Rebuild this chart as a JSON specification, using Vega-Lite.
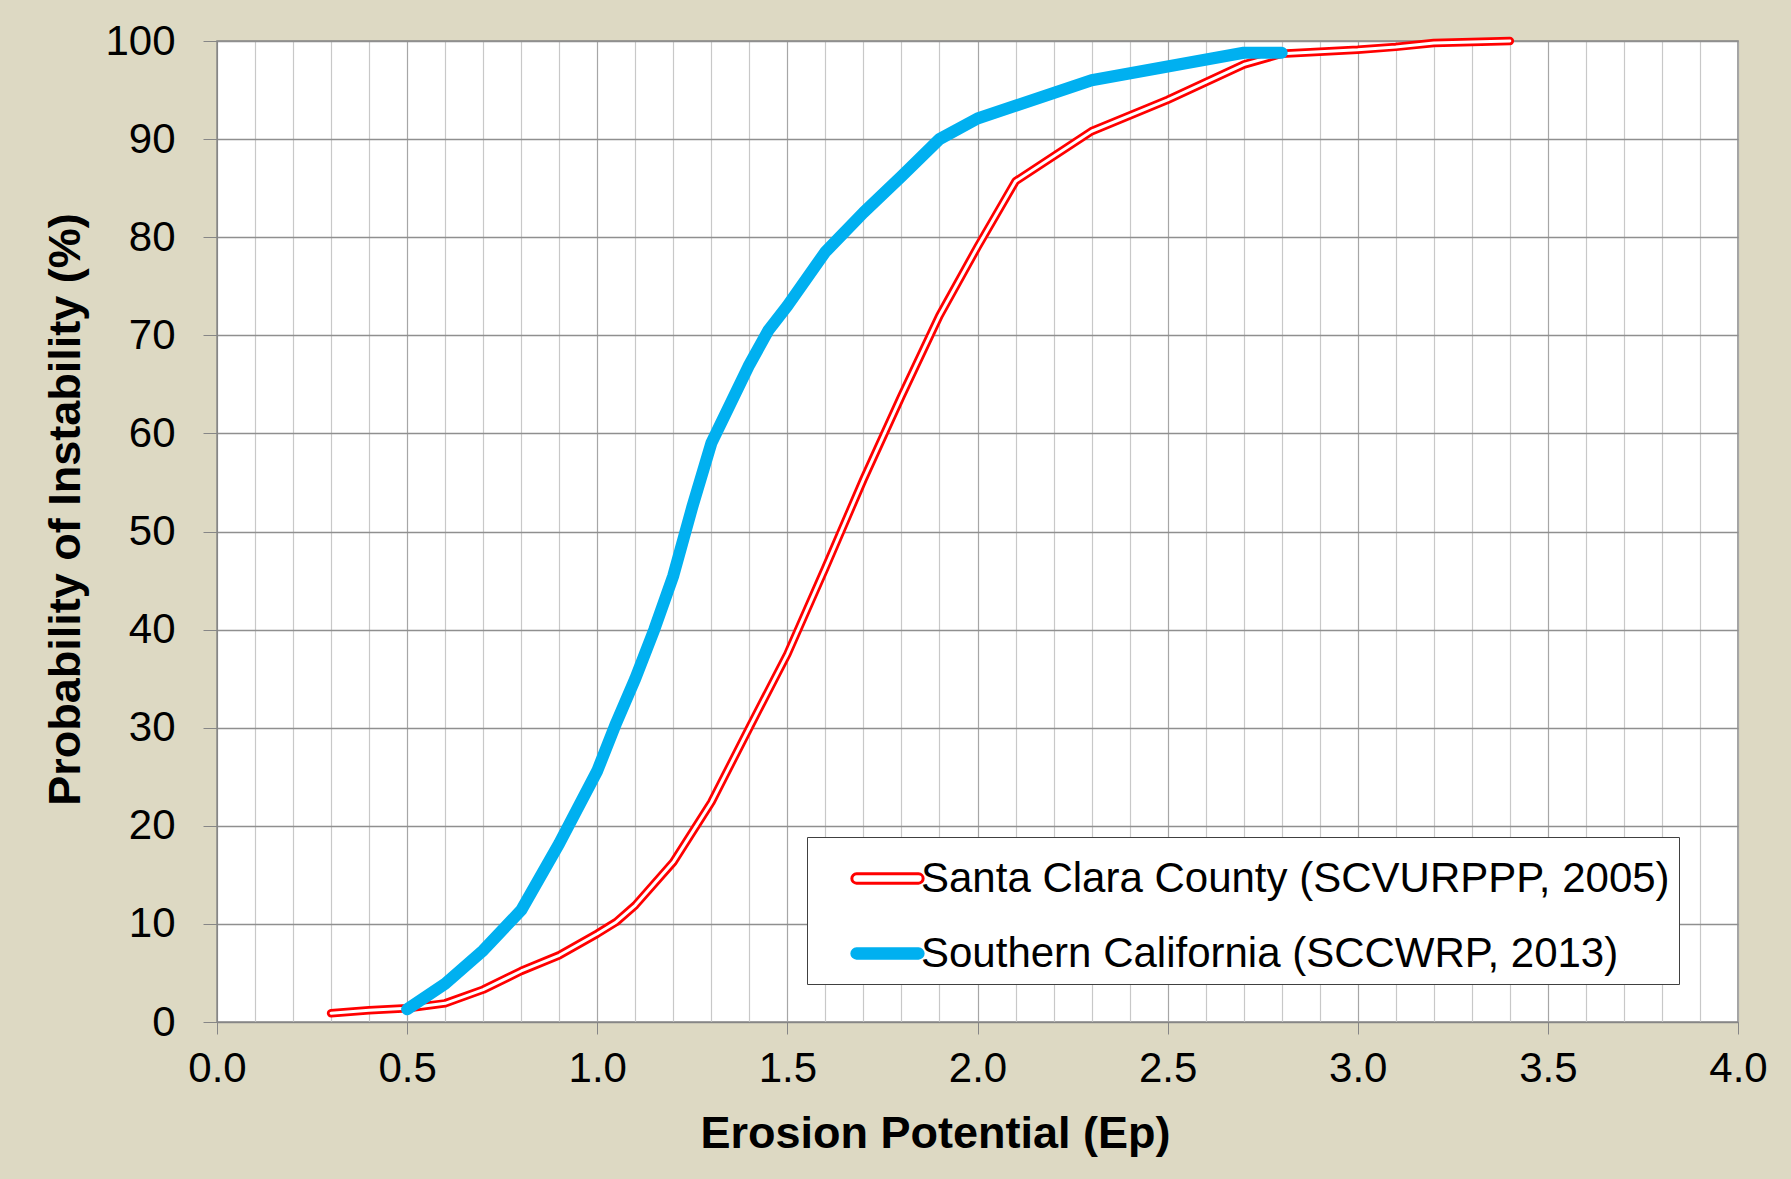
{
  "$schema": "https://vega.github.io/schema/vega-lite/v6.json",
  "width": 1521,
  "height": 981,
  "autosize": {"type": "none"},
  "padding": {"left": 217, "top": 41, "right": 53, "bottom": 157},
  "background": "#DDD9C3",
  "config": {
    "view": {"stroke": "#868686", "strokeWidth": 1.5, "fill": "white"},
    "font": "Liberation Sans"
  },
  "data": {
    "values": [
      {"series": "Santa Clara County (SCVURPPP, 2005)", "ep": 0.3, "p": 0.9},
      {"series": "Santa Clara County (SCVURPPP, 2005)", "ep": 0.4, "p": 1.2},
      {"series": "Santa Clara County (SCVURPPP, 2005)", "ep": 0.5, "p": 1.4},
      {"series": "Santa Clara County (SCVURPPP, 2005)", "ep": 0.6, "p": 1.9},
      {"series": "Santa Clara County (SCVURPPP, 2005)", "ep": 0.7, "p": 3.3},
      {"series": "Santa Clara County (SCVURPPP, 2005)", "ep": 0.8, "p": 5.2},
      {"series": "Santa Clara County (SCVURPPP, 2005)", "ep": 0.9, "p": 6.8},
      {"series": "Santa Clara County (SCVURPPP, 2005)", "ep": 1.0, "p": 9.0},
      {"series": "Santa Clara County (SCVURPPP, 2005)", "ep": 1.05, "p": 10.2},
      {"series": "Santa Clara County (SCVURPPP, 2005)", "ep": 1.1, "p": 11.9},
      {"series": "Santa Clara County (SCVURPPP, 2005)", "ep": 1.2, "p": 16.3},
      {"series": "Santa Clara County (SCVURPPP, 2005)", "ep": 1.3, "p": 22.4},
      {"series": "Santa Clara County (SCVURPPP, 2005)", "ep": 1.4, "p": 30.0},
      {"series": "Santa Clara County (SCVURPPP, 2005)", "ep": 1.5, "p": 37.5},
      {"series": "Santa Clara County (SCVURPPP, 2005)", "ep": 1.6, "p": 46.3},
      {"series": "Santa Clara County (SCVURPPP, 2005)", "ep": 1.7, "p": 55.3},
      {"series": "Santa Clara County (SCVURPPP, 2005)", "ep": 1.8, "p": 63.8},
      {"series": "Santa Clara County (SCVURPPP, 2005)", "ep": 1.9, "p": 72.0},
      {"series": "Santa Clara County (SCVURPPP, 2005)", "ep": 2.0, "p": 79.0},
      {"series": "Santa Clara County (SCVURPPP, 2005)", "ep": 2.1, "p": 85.7},
      {"series": "Santa Clara County (SCVURPPP, 2005)", "ep": 2.3, "p": 90.8},
      {"series": "Santa Clara County (SCVURPPP, 2005)", "ep": 2.5, "p": 94.0},
      {"series": "Santa Clara County (SCVURPPP, 2005)", "ep": 2.7, "p": 97.6},
      {"series": "Santa Clara County (SCVURPPP, 2005)", "ep": 2.8, "p": 98.7},
      {"series": "Santa Clara County (SCVURPPP, 2005)", "ep": 2.9, "p": 98.9},
      {"series": "Santa Clara County (SCVURPPP, 2005)", "ep": 3.0, "p": 99.1},
      {"series": "Santa Clara County (SCVURPPP, 2005)", "ep": 3.1, "p": 99.4},
      {"series": "Santa Clara County (SCVURPPP, 2005)", "ep": 3.2, "p": 99.8},
      {"series": "Santa Clara County (SCVURPPP, 2005)", "ep": 3.3, "p": 99.9},
      {"series": "Santa Clara County (SCVURPPP, 2005)", "ep": 3.4, "p": 100},
      {"series": "Southern California (SCCWRP, 2013)", "ep": 0.5, "p": 1.3},
      {"series": "Southern California (SCCWRP, 2013)", "ep": 0.6, "p": 3.9},
      {"series": "Southern California (SCCWRP, 2013)", "ep": 0.7, "p": 7.3},
      {"series": "Southern California (SCCWRP, 2013)", "ep": 0.8, "p": 11.4},
      {"series": "Southern California (SCCWRP, 2013)", "ep": 0.9, "p": 18.2},
      {"series": "Southern California (SCCWRP, 2013)", "ep": 1.0, "p": 25.6},
      {"series": "Southern California (SCCWRP, 2013)", "ep": 1.05, "p": 30.5},
      {"series": "Southern California (SCCWRP, 2013)", "ep": 1.1, "p": 35.0},
      {"series": "Southern California (SCCWRP, 2013)", "ep": 1.15, "p": 40.0},
      {"series": "Southern California (SCCWRP, 2013)", "ep": 1.2, "p": 45.5},
      {"series": "Southern California (SCCWRP, 2013)", "ep": 1.25, "p": 52.5},
      {"series": "Southern California (SCCWRP, 2013)", "ep": 1.3, "p": 59.0},
      {"series": "Southern California (SCCWRP, 2013)", "ep": 1.4, "p": 67.0},
      {"series": "Southern California (SCCWRP, 2013)", "ep": 1.45, "p": 70.5},
      {"series": "Southern California (SCCWRP, 2013)", "ep": 1.5, "p": 73.0},
      {"series": "Southern California (SCCWRP, 2013)", "ep": 1.6, "p": 78.5},
      {"series": "Southern California (SCCWRP, 2013)", "ep": 1.7, "p": 82.5},
      {"series": "Southern California (SCCWRP, 2013)", "ep": 1.8, "p": 86.2},
      {"series": "Southern California (SCCWRP, 2013)", "ep": 1.9, "p": 90.0},
      {"series": "Southern California (SCCWRP, 2013)", "ep": 2.0, "p": 92.1},
      {"series": "Southern California (SCCWRP, 2013)", "ep": 2.3, "p": 96.0},
      {"series": "Southern California (SCCWRP, 2013)", "ep": 2.7, "p": 98.8},
      {"series": "Southern California (SCCWRP, 2013)", "ep": 2.8, "p": 98.8}
    ]
  },
  "encoding": {
    "x": {
      "field": "ep",
      "type": "quantitative",
      "scale": {"domain": [0, 4], "nice": false},
      "axis": {
        "title": "Erosion Potential (Ep)",
        "values": [0, 0.1, 0.2, 0.3, 0.4, 0.5, 0.6, 0.7, 0.8, 0.9, 1.0, 1.1, 1.2, 1.3, 1.4, 1.5, 1.6, 1.7, 1.8, 1.9, 2.0, 2.1, 2.2, 2.3, 2.4, 2.5, 2.6, 2.7, 2.8, 2.9, 3.0, 3.1, 3.2, 3.3, 3.4, 3.5, 3.6, 3.7, 3.8, 3.9, 4.0],
        "labelExpr": "abs(datum.value*2 - round(datum.value*2)) < 0.001 ? format(datum.value, '.1f') : ''",
        "labelOverlap": false,
        "labelFlush": false,
        "grid": true,
        "gridColor": {"condition": {"test": "abs(datum.value*2 - round(datum.value*2)) < 0.001", "value": "#A6A6A6"}, "value": "#C8C8C8"},
        "gridWidth": 1.2,
        "tickOpacity": {"condition": {"test": "abs(datum.value*2 - round(datum.value*2)) < 0.001", "value": 1}, "value": 0},
        "tickSize": 12,
        "tickColor": "#868686",
        "domainColor": "#868686",
        "labelFontSize": 42,
        "labelColor": "black",
        "labelPadding": 14,
        "titleFontSize": 45,
        "titleFontWeight": "bold",
        "titleColor": "black",
        "titlePadding": 22,
        "titleX": 718
      }
    },
    "y": {
      "field": "p",
      "type": "quantitative",
      "scale": {"domain": [0, 100], "nice": false},
      "axis": {
        "title": "Probability of Instability (%)",
        "values": [0, 10, 20, 30, 40, 50, 60, 70, 80, 90, 100],
        "grid": true,
        "gridColor": "#8F8F8F",
        "gridWidth": 1.3,
        "tickSize": 14,
        "tickColor": "#868686",
        "domainColor": "#868686",
        "labelFontSize": 42,
        "labelColor": "black",
        "labelPadding": 28,
        "titleFontSize": 45,
        "titleFontWeight": "bold",
        "titleColor": "black",
        "titlePadding": 16,
        "titleY": 468
      }
    }
  },
  "layer": [
    {
      "transform": [{"filter": "datum.series === 'Santa Clara County (SCVURPPP, 2005)'"}],
      "mark": {"type": "line", "strokeWidth": 8.5, "strokeCap": "round", "strokeJoin": "round"},
      "encoding": {
        "color": {
          "field": "series",
          "type": "nominal",
          "scale": {"domain": ["Santa Clara County (SCVURPPP, 2005)", "Southern California (SCCWRP, 2013)"], "range": ["#FF0000", "#00B0F0"]},
          "legend": {
            "orient": "none",
            "legendX": 590,
            "legendY": 796,
            "title": null,
            "direction": "vertical",
            "fillColor": "white",
            "strokeColor": "#404040",
            "padding": 9,
            "symbolOffset": 39,
            "symbolType": "M-1,-0.15L1,-0.15A0.15,0.15 0 0 1 1,0.15L-1,0.15A0.15,0.15 0 0 1 -1,-0.15Z",
            "symbolSize": 3844,
            "symbolStrokeWidth": 3,
            "labelFontSize": 42,
            "labelColor": "black",
            "labelOffset": 1,
            "labelLimit": 2000,
            "rowPadding": 21,
            "encode": {
              "legend": {"update": {"width": {"value": 929}}},
              "symbols": {
                "update": {
                  "fill": {"signal": "datum.value === 'Southern California (SCCWRP, 2013)' ? '#00B0F0' : 'white'"},
                  "stroke": {"signal": "datum.value === 'Southern California (SCCWRP, 2013)' ? '#00B0F0' : '#FF0000'"},
                  "strokeWidth": {"value": 3},
                  "opacity": {"value": 1}
                }
              }
            }
          }
        }
      }
    },
    {
      "transform": [{"filter": "datum.series === 'Santa Clara County (SCVURPPP, 2005)'"}],
      "mark": {"type": "line", "strokeWidth": 3, "strokeCap": "round", "strokeJoin": "round", "color": "white"},
      "encoding": {}
    },
    {
      "transform": [{"filter": "datum.series === 'Southern California (SCCWRP, 2013)'"}],
      "mark": {"type": "line", "strokeWidth": 12, "strokeCap": "round", "strokeJoin": "round"},
      "encoding": {
        "color": {"field": "series", "type": "nominal"}
      }
    }
  ]
}
